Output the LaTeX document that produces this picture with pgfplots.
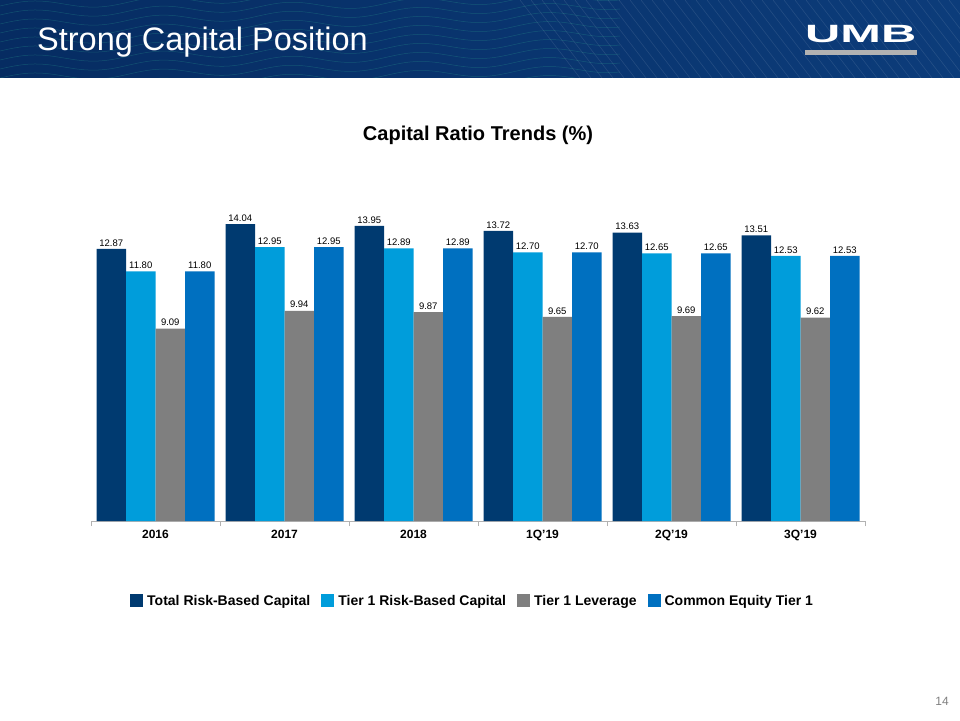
\documentclass[border=0pt]{standalone}
\usepackage{pgfplots}
\pgfplotsset{compat=1.18}
\usepackage{fontspec}
\setmainfont{Liberation Sans}
\definecolor{cTot}{RGB}{0,58,112}
\definecolor{cT1}{RGB}{0,157,219}
\definecolor{cLev}{RGB}{127,127,127}
\definecolor{cCet}{RGB}{0,112,192}
\definecolor{hdrL}{RGB}{6,44,98}
\definecolor{hdrR}{RGB}{12,60,122}
\definecolor{waveC}{RGB}{40,150,140}
\begin{document}
\begin{tikzpicture}[x=1pt,y=1pt]
\path[use as bounding box] (0,0) rectangle (960,720);
\fill[white] (0,0) rectangle (960,720);
\shade[left color=hdrL,right color=hdrR] (0,642) rectangle (960,720);
\begin{scope}
\clip (0,642) rectangle (960,720);
\foreach \k in {-2,...,9}{
  \draw[waveC, opacity=0.35, line width=0.5pt] plot[domain=0:620,samples=90,smooth] (\x,{642+\k*9+0.03*\x+4*sin(\x*2.8)});
}
\foreach \k in {0,...,40}{
  \draw[white,opacity=0.10,line width=0.6pt] (520+\k*11,720) -- ++(60,-78);
}
\end{scope}
\node[anchor=base west, text=white, inner sep=0, font=\fontsize{32.5}{36}\selectfont] at (37,669) {Strong Capital Position};
\node[anchor=base west, text=white, inner sep=0, font=\bfseries\fontsize{25}{25}\selectfont] at (805,677) {\scalebox{1.95}[1]{UMB}};
\fill[gray!60] (805,665) rectangle (917,669.5);
\node[anchor=base, inner sep=0, font=\bfseries\fontsize{20}{22}\selectfont] at (478,579) {Capital Ratio Trends (\%)};
\node[anchor=base east, inner sep=0, text=gray, font=\fontsize{12}{12}\selectfont] at (949,15) {14};
\begin{axis}[
  at={(91pt,199pt)}, anchor=south west,
  scale only axis, width=774pt, height=338.4pt,
  ymin=0, ymax=16, xmin=-0.5, xmax=5.5,
  ybar=0pt, bar width=29.5pt,
  axis y line=none, axis x line*=bottom,
  x axis line style={draw=gray!60, line width=0.8pt},
  xtick={-0.5,0.5,1.5,2.5,3.5,4.5,5.5},
  xticklabels={2016,2017,2018,1Q'19,2Q'19,3Q'19},
  x tick label as interval,
  xtick style={draw=gray!60, line width=0.8pt},
  tick align=outside, major tick length=5pt,
  xticklabel style={font=\bfseries\fontsize{12}{13}\selectfont, yshift=-1pt},
  nodes near coords={\pgfmathprintnumber[fixed,fixed zerofill,precision=2,assume math mode=true]{\pgfplotspointmeta}},
  every node near coord/.append style={font=\fontsize{9.5}{10}\selectfont, inner sep=1pt, yshift=1.5pt},
  legend style={at={(0.493,-0.236)}, anchor=center, draw=none, fill=none, legend columns=4,
    font=\bfseries\fontsize{14}{15}\selectfont,
    /tikz/every even column/.append style={column sep=9pt}},
  legend image code/.code={\fill[#1] (0pt,-6.5pt) rectangle (13pt,6.5pt); \path (15pt,0pt);},
  clip=false,
]
\addplot[fill=cTot, draw=none] coordinates {(0,12.87) (1,14.04) (2,13.95) (3,13.72) (4,13.63) (5,13.51)};
\addplot[fill=cT1, draw=none] coordinates {(0,11.80) (1,12.95) (2,12.89) (3,12.70) (4,12.65) (5,12.53)};
\addplot[fill=cLev, draw=none] coordinates {(0,9.09) (1,9.94) (2,9.87) (3,9.65) (4,9.69) (5,9.62)};
\addplot[fill=cCet, draw=none] coordinates {(0,11.80) (1,12.95) (2,12.89) (3,12.70) (4,12.65) (5,12.53)};
\legend{Total Risk-Based Capital, Tier 1 Risk-Based Capital, Tier 1 Leverage, Common Equity Tier 1}
\end{axis}
\end{tikzpicture}
\end{document}
